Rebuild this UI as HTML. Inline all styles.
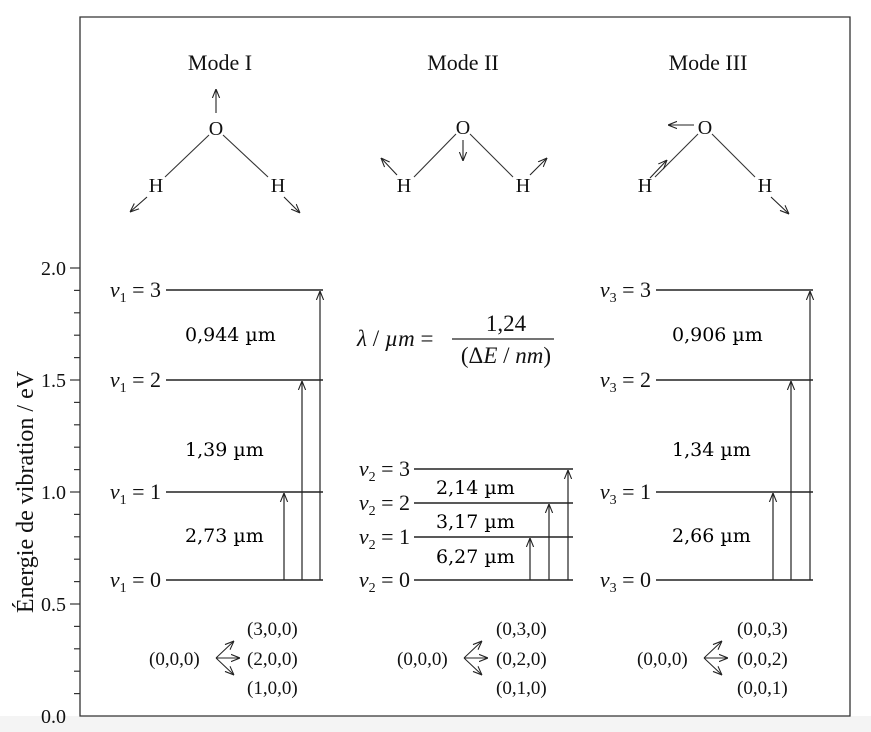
<!DOCTYPE html>
<html><head><meta charset="utf-8"><style>
html,body{margin:0;padding:0;background:#fff}
svg{display:block}
.s{font-family:"Liberation Serif",serif;fill:#111}
.b{font-family:"DejaVu Serif",serif;fill:#000;font-size:19px}
</style></head><body>
<svg width="871" height="732" viewBox="0 0 871 732">
<defs>
<marker id="a" viewBox="0 0 10 10" refX="10" refY="5" markerWidth="9" markerHeight="9" orient="auto" markerUnits="userSpaceOnUse">
<path d="M0,1 L10,5 L0,9" fill="none" stroke="#222" stroke-width="1.2"/></marker>
</defs>
<rect x="0" y="716" width="871" height="16" fill="#f4f4f4"/>
<g stroke="#333" stroke-width="1.3" fill="none">
<path d="M80,17 L850,17 L850,716 L80,716 Z"/>
</g>
<g stroke="#333" stroke-width="1.2">
<line x1="70" y1="268" x2="80" y2="268"/><line x1="74" y1="290.4" x2="80" y2="290.4"/><line x1="74" y1="312.8" x2="80" y2="312.8"/><line x1="74" y1="335.2" x2="80" y2="335.2"/><line x1="74" y1="357.6" x2="80" y2="357.6"/>
<line x1="70" y1="380" x2="80" y2="380"/><line x1="74" y1="402.4" x2="80" y2="402.4"/><line x1="74" y1="424.8" x2="80" y2="424.8"/><line x1="74" y1="447.2" x2="80" y2="447.2"/><line x1="74" y1="469.6" x2="80" y2="469.6"/>
<line x1="70" y1="492" x2="80" y2="492"/><line x1="74" y1="514.4" x2="80" y2="514.4"/><line x1="74" y1="536.8" x2="80" y2="536.8"/><line x1="74" y1="559.2" x2="80" y2="559.2"/><line x1="74" y1="581.6" x2="80" y2="581.6"/>
<line x1="70" y1="604" x2="80" y2="604"/><line x1="74" y1="626.4" x2="80" y2="626.4"/><line x1="74" y1="648.8" x2="80" y2="648.8"/><line x1="74" y1="671.2" x2="80" y2="671.2"/><line x1="74" y1="693.6" x2="80" y2="693.6"/>
</g>
<g class="s" font-size="20" text-anchor="end">
<text x="66" y="275">2.0</text><text x="66" y="387">1.5</text><text x="66" y="499">1.0</text><text x="66" y="611">0.5</text><text x="66" y="723">0.0</text>
</g>
<text class="s" font-size="24" transform="translate(33,492) rotate(-90)" text-anchor="middle">Énergie de vibration / eV</text>

<g class="s" font-size="22" text-anchor="middle">
<text x="220" y="70">Mode I</text><text x="463" y="70">Mode II</text><text x="708" y="70">Mode III</text>
</g>
<g class="s" font-size="20" text-anchor="middle">
<text x="216" y="135">O</text><text x="156" y="192">H</text><text x="278" y="192">H</text>
<text x="463" y="134">O</text><text x="404" y="192">H</text><text x="523" y="192">H</text>
<text x="705" y="134">O</text><text x="645" y="192">H</text><text x="765" y="192">H</text>
</g>
<g stroke="#333" stroke-width="1.1" fill="none">
<line x1="209" y1="135" x2="165" y2="177"/><line x1="223" y1="135" x2="268" y2="177"/>
<line x1="456" y1="134" x2="414" y2="177"/><line x1="470" y1="134" x2="513" y2="177"/>
<line x1="698" y1="134" x2="655" y2="177"/><line x1="712" y1="134" x2="755" y2="177"/>
</g>
<g stroke="#222" stroke-width="1.1" fill="none" marker-end="url(#a)">
<line x1="216" y1="113" x2="216" y2="89"/>
<line x1="147" y1="197" x2="130" y2="212"/><line x1="284" y1="197" x2="300" y2="213"/>
<line x1="463" y1="140" x2="463" y2="161"/>
<line x1="397" y1="175" x2="381" y2="158"/><line x1="530" y1="175" x2="547" y2="158"/>
<line x1="694" y1="125" x2="668" y2="125"/>
<line x1="650" y1="178" x2="667" y2="160"/><line x1="771" y1="197" x2="789" y2="214"/>
</g>
<g stroke="#222" stroke-width="1.4">
<line x1="166" y1="290" x2="323" y2="290"/><line x1="166" y1="380" x2="323" y2="380"/><line x1="166" y1="492" x2="323" y2="492"/><line x1="166" y1="580" x2="323" y2="580"/>
<line x1="414" y1="469" x2="573" y2="469"/><line x1="414" y1="503" x2="573" y2="503"/><line x1="414" y1="537" x2="573" y2="537"/><line x1="414" y1="580" x2="573" y2="580"/>
<line x1="656" y1="290" x2="813" y2="290"/><line x1="656" y1="380" x2="813" y2="380"/><line x1="656" y1="492" x2="813" y2="492"/><line x1="656" y1="580" x2="813" y2="580"/>
</g>
<g stroke="#222" stroke-width="1.2" marker-end="url(#a)">
<line x1="284" y1="580" x2="284" y2="493"/><line x1="302" y1="580" x2="302" y2="381"/><line x1="320" y1="580" x2="320" y2="291"/>
<line x1="530" y1="580" x2="530" y2="538"/><line x1="549" y1="580" x2="549" y2="504"/><line x1="568" y1="580" x2="568" y2="470"/>
<line x1="773" y1="580" x2="773" y2="493"/><line x1="791" y1="580" x2="791" y2="381"/><line x1="810" y1="580" x2="810" y2="291"/>
</g>
<g class="s" font-size="22" text-anchor="end">
<text x="161" y="297"><tspan font-style="italic">v</tspan><tspan font-size="14" dy="5">1</tspan><tspan dy="-5"> = 3</tspan></text>
<text x="161" y="387"><tspan font-style="italic">v</tspan><tspan font-size="14" dy="5">1</tspan><tspan dy="-5"> = 2</tspan></text>
<text x="161" y="499"><tspan font-style="italic">v</tspan><tspan font-size="14" dy="5">1</tspan><tspan dy="-5"> = 1</tspan></text>
<text x="161" y="587"><tspan font-style="italic">v</tspan><tspan font-size="14" dy="5">1</tspan><tspan dy="-5"> = 0</tspan></text>
<text x="410" y="476"><tspan font-style="italic">v</tspan><tspan font-size="14" dy="5">2</tspan><tspan dy="-5"> = 3</tspan></text>
<text x="410" y="510"><tspan font-style="italic">v</tspan><tspan font-size="14" dy="5">2</tspan><tspan dy="-5"> = 2</tspan></text>
<text x="410" y="544"><tspan font-style="italic">v</tspan><tspan font-size="14" dy="5">2</tspan><tspan dy="-5"> = 1</tspan></text>
<text x="410" y="587"><tspan font-style="italic">v</tspan><tspan font-size="14" dy="5">2</tspan><tspan dy="-5"> = 0</tspan></text>
<text x="651" y="297"><tspan font-style="italic">v</tspan><tspan font-size="14" dy="5">3</tspan><tspan dy="-5"> = 3</tspan></text>
<text x="651" y="387"><tspan font-style="italic">v</tspan><tspan font-size="14" dy="5">3</tspan><tspan dy="-5"> = 2</tspan></text>
<text x="651" y="499"><tspan font-style="italic">v</tspan><tspan font-size="14" dy="5">3</tspan><tspan dy="-5"> = 1</tspan></text>
<text x="651" y="587"><tspan font-style="italic">v</tspan><tspan font-size="14" dy="5">3</tspan><tspan dy="-5"> = 0</tspan></text>
</g>
<g class="b">
<text x="185" y="341">0,944 µm</text><text x="185" y="456">1,39 µm</text><text x="185" y="542">2,73 µm</text>
<text x="436" y="494">2,14 µm</text><text x="436" y="528">3,17 µm</text><text x="436" y="563">6,27 µm</text>
<text x="672" y="341">0,906 µm</text><text x="672" y="456">1,34 µm</text><text x="672" y="542">2,66 µm</text>
</g>
<g class="s" font-size="23">
<text x="357" y="346"><tspan font-style="italic">λ</tspan> / <tspan font-style="italic">µm</tspan> =</text>
<text x="506" y="331" text-anchor="middle">1,24</text>
<text x="506" y="363" text-anchor="middle">(Δ<tspan font-style="italic">E</tspan> / <tspan font-style="italic">nm</tspan>)</text>
</g>
<line x1="452" y1="339" x2="554" y2="339" stroke="#222" stroke-width="1.3"/>
<g class="s" font-size="19">
<text x="149" y="665">(0,0,0)</text><text x="247" y="635">(3,0,0)</text><text x="247" y="665">(2,0,0)</text><text x="247" y="694">(1,0,0)</text>
<text x="397" y="665">(0,0,0)</text><text x="496" y="635">(0,3,0)</text><text x="496" y="665">(0,2,0)</text><text x="496" y="694">(0,1,0)</text>
<text x="637" y="665">(0,0,0)</text><text x="737" y="635">(0,0,3)</text><text x="737" y="665">(0,0,2)</text><text x="737" y="694">(0,0,1)</text>
</g>
<g stroke="#222" stroke-width="1" fill="none" marker-end="url(#a)">
<line x1="216" y1="658" x2="234" y2="641"/><line x1="216" y1="658" x2="240" y2="658"/><line x1="216" y1="658" x2="234" y2="675"/>
<line x1="464" y1="658" x2="482" y2="641"/><line x1="464" y1="658" x2="488" y2="658"/><line x1="464" y1="658" x2="482" y2="675"/>
<line x1="704" y1="658" x2="722" y2="641"/><line x1="704" y1="658" x2="728" y2="658"/><line x1="704" y1="658" x2="722" y2="675"/>
</g>
</svg>
</body></html>
